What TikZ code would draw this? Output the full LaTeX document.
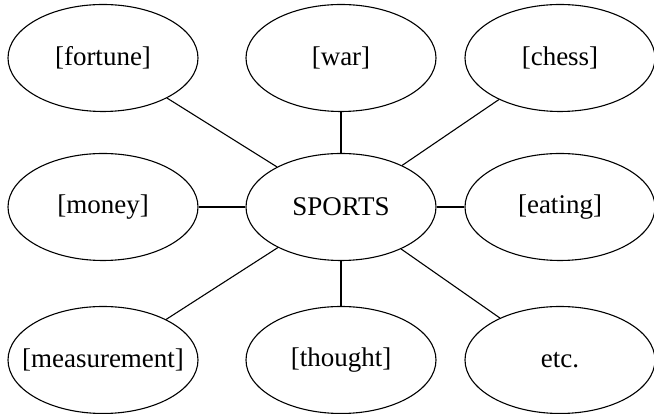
\documentclass[tikz,border=0pt]{standalone}
\usepackage{fontspec}
\setmainfont{Liberation Serif}
\usetikzlibrary{shapes.geometric,positioning}

\begin{document}
\begin{tikzpicture}[x=1pt,y=1pt,on grid,line width=1.1pt,
  concept/.style={ellipse,draw,minimum width=190pt,minimum height=107pt,
    inner xsep=-30pt,inner ysep=0pt,font=\fontsize{27}{32}\selectfont}]
\useasboundingbox (0,0) rectangle (654,414);
\node[concept] (sports) at (341,207) {SPORTS};
\node[concept] (war) [above=149pt of sports] {[war]};
\node[concept] (fortune) [above left=149pt and 238pt of sports] {[fortune]};
\node[concept] (chess) [above right=149pt and 219pt of sports] {[chess]};
\node[concept] (money) [left=238pt of sports] {[money]};
\node[concept] (eating) [right=219pt of sports] {[eating]};
\node[concept] (thought) [below=153pt of sports] {[thought]};
\node[concept] (measure) [below left=153pt and 238pt of sports] {[measurement]};
\node[concept] (etc) [below right=153pt and 219pt of sports] {etc.};
 \path
(sports) edge (fortune)
(sports) edge (war)
(sports) edge (chess)
(sports) edge (money)
(sports) edge (eating)
(sports) edge (measure)
(sports) edge (thought)
(sports) edge (etc);
\end{tikzpicture}
\end{document}
